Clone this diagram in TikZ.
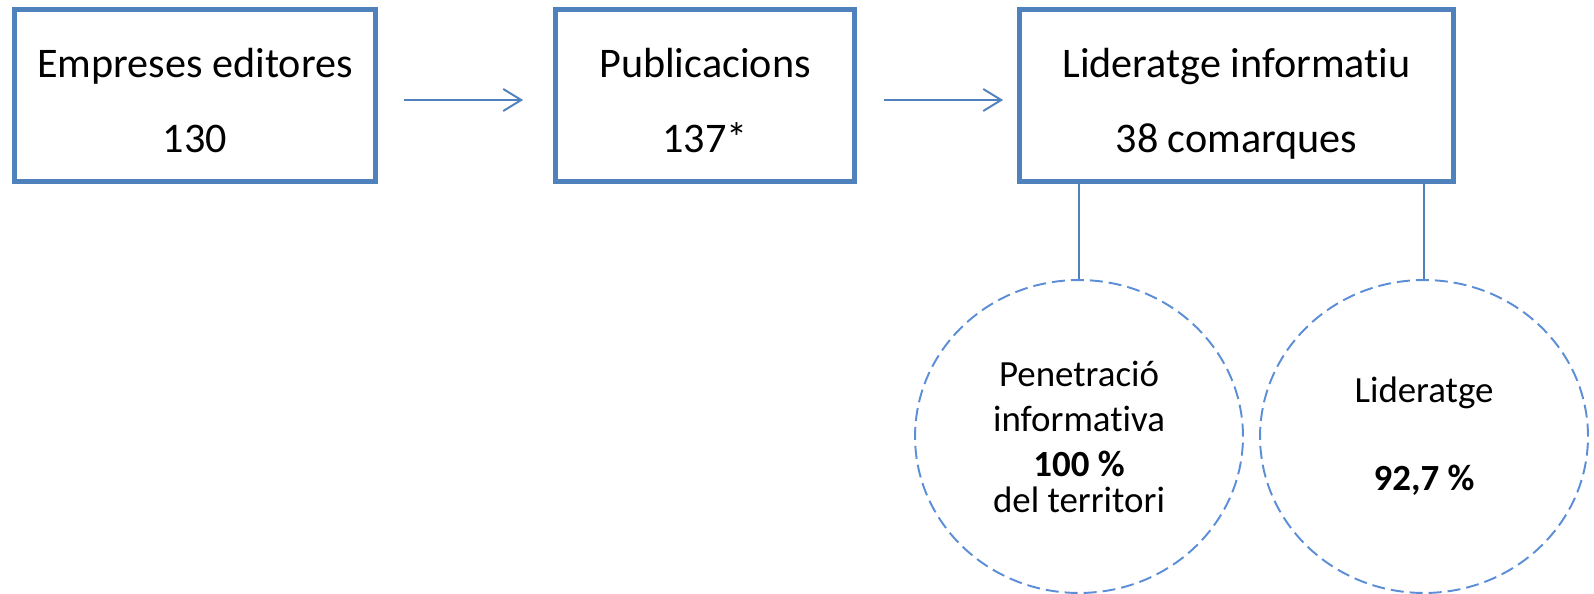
\documentclass[tikz,border=0pt]{standalone}
\usepackage{fontspec}
\setmainfont{Carlito}[Ligatures=NoCommon]
\usetikzlibrary{arrows.meta,shapes.geometric}
\definecolor{boxblue}{HTML}{4F81BD}
\definecolor{dashblue}{HTML}{5B8ED6}
\begin{document}
\begin{tikzpicture}[x=0.02cm,y=-0.02cm,
	every node/.style={align=center},
	mybox/.style={draw=boxblue,line width=2.8pt,minimum height=3.44cm,
		text height=2.3cm,text depth=0pt,
		font=\fontsize{24}{42.7}\selectfont},
	myell/.style={ellipse,draw=dashblue,line width=1.1pt,
		dash pattern=on 0.26cm off 0.12cm,
		minimum width=6.56cm,minimum height=6.26cm,inner sep=0pt,
		font=\fontsize{21}{25.6}\selectfont},
	arrowstyle/.style={draw=boxblue,line width=1.1pt,
		-{Straight Barb[length=0.36cm,width=0.44cm]}},
	linkstyle/.style={draw=boxblue,line width=1.1pt}]
	
	\useasboundingbox (0,0) rectangle (1594,594);
	
	\node[mybox,minimum width=7.22cm](emp) at (195,95.5) {Empreses editores\\130};
	\node[mybox,minimum width=5.98cm](pub) at (705,95.5) {Publicacions\\137*};
	\node[mybox,minimum width=8.68cm](lid) at (1236.5,95.5) {Lideratge informatiu\\38 comarques};
	
	\node[myell](pen) at (1079,436.5) {Penetració\\informativa\\\textbf{100 \%}\\[-0.18cm]del territori};
	\node[myell](lde) at (1424,436.5) {Lideratge\\[0.86cm]\textbf{92,7 \%}};
	
	\draw[arrowstyle] ([xshift=0.52cm,yshift=-0.09cm]emp.east) -- ([xshift=-0.6cm,yshift=-0.09cm]pub.west);
	\draw[arrowstyle] ([xshift=0.54cm,yshift=-0.09cm]pub.east) -- ([xshift=-0.28cm,yshift=-0.09cm]lid.west);
	
	\draw[linkstyle] (pen.north) -- (pen.north |- lid.south);
	\draw[linkstyle] (lde.north) -- (lde.north |- lid.south);
\end{tikzpicture}
\end{document}
